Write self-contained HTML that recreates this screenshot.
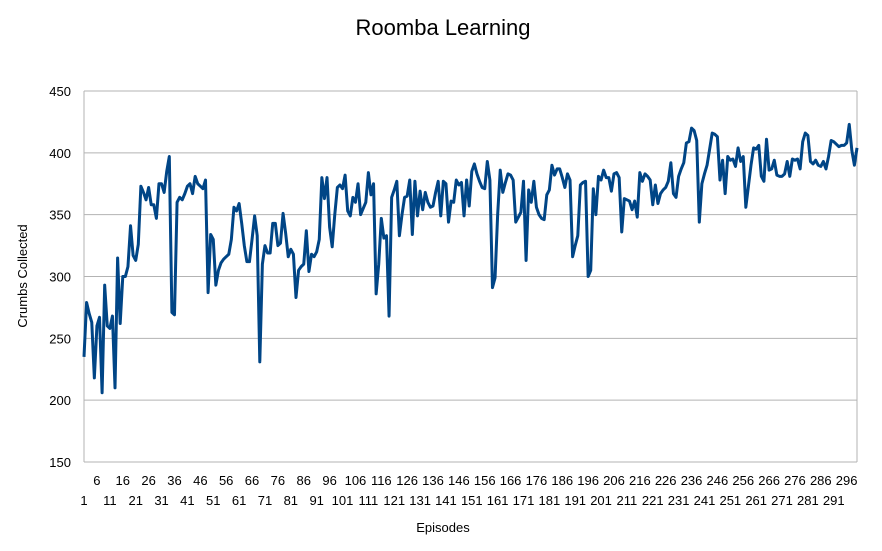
<!DOCTYPE html>
<html><head><meta charset="utf-8"><style>
body{margin:0;background:#fff;}
svg{display:block;font-family:"Liberation Sans",sans-serif;}
</style></head><body>
<svg id="chart" width="882" height="551" viewBox="0 0 882 551">
<rect width="882" height="551" fill="#fff"/>
<text x="443" y="35" font-size="22" text-anchor="middle" fill="#000">Roomba Learning</text>
<text transform="translate(27,276) rotate(-90)" font-size="13" text-anchor="middle" fill="#000">Crumbs Collected</text>
<text x="443" y="532" font-size="13" text-anchor="middle" fill="#000">Episodes</text>
<g id="grid"></g><g id="xticks"></g><g id="yticks"></g><g id="series"></g>
</svg>
<script>
const yTicks=[150,200,250,300,350,400,450];
const crumbs=[235,279,270,263,218,260,267,206,293,260,258,268,210,315,262,300,300,308,341,317,313,326,373,368,362,372,358,358,347,375,375,368,385,397,271,269,360,364,362,367,373,375,367,381,375,373,371,378,287,334,330,293,305,311,314,316,318,330,356,353,359,343,325,312,312,330,349,333,231,310,325,319,319,343,343,325,327,351,335,316,322,318,283,305,308,310,337,304,318,316,320,330,380,363,380,340,324,350,372,374,371,382,353,349,364,360,375,350,355,360,384,366,375,286,310,347,331,333,268,364,370,377,333,350,364,365,378,334,377,349,369,354,368,360,356,357,368,377,349,377,375,344,361,360,378,374,376,349,378,357,385,391,383,377,372,371,393,378,291,299,350,386,368,376,383,382,378,344,348,352,377,313,370,360,377,356,350,347,346,366,370,390,382,387,387,380,372,383,378,316,325,333,374,376,377,300,305,371,350,381,378,386,380,380,369,383,384,380,336,363,362,361,354,361,348,384,377,383,381,378,358,374,359,367,370,372,377,392,367,364,381,387,392,408,409,420,418,410,344,375,383,390,403,416,415,413,378,394,367,397,394,395,389,404,393,397,356,373,390,404,403,406,381,377,411,386,387,394,382,381,381,383,393,381,395,394,395,387,409,416,414,393,391,394,390,389,393,387,397,410,409,407,405,406,406,408,423,402,390,404];
const NS="http://www.w3.org/2000/svg";
const L=84,R=857,T=91,B=462,ymin=150,ymax=450;
const n=crumbs.length;
const xs=i=>L+i*(R-L)/(n-1);
const ys=v=>B-(v-ymin)/(ymax-ymin)*(B-T);
function mk(tag,attrs,parent){const e=document.createElementNS(NS,tag);for(const k in attrs)e.setAttribute(k,attrs[k]);parent.appendChild(e);return e;}
const grid=document.getElementById('grid'),yt=document.getElementById('yticks'),xt=document.getElementById('xticks'),ser=document.getElementById('series');
yTicks.forEach(v=>{
 const g=mk('line',{x1:L,x2:R,y1:ys(v),y2:ys(v),stroke:'#b3b3b3','stroke-width':1},grid);
 
 
 const t=mk('text',{x:L-13,y:ys(v)+5,'font-size':13,'text-anchor':'end',fill:'#000'},yt);
 t.textContent=v;
 
 
});
const ax=mk('line',{x1:L,x2:L,y1:T,y2:B,stroke:'#b3b3b3','stroke-width':1},grid);


const ax2=mk('line',{x1:R,x2:R,y1:T,y2:B,stroke:'#b3b3b3','stroke-width':1},grid);


for(let i=0;i<n;i+=5){
 const up=(i/5)%2===1;
 const t=mk('text',{x:xs(i),y:up?485:505,'font-size':13,'text-anchor':'middle',fill:'#000'},xt);
 t.textContent=i+1;
 
 
}
const d=crumbs.map((v,i)=>(i?'L':'M')+xs(i).toFixed(2)+','+ys(v).toFixed(2)).join('');
const p=mk('path',{d:d,fill:'none',stroke:'#004586','stroke-width':3,'stroke-linejoin':'round'},ser);


</script>
</body></html>
